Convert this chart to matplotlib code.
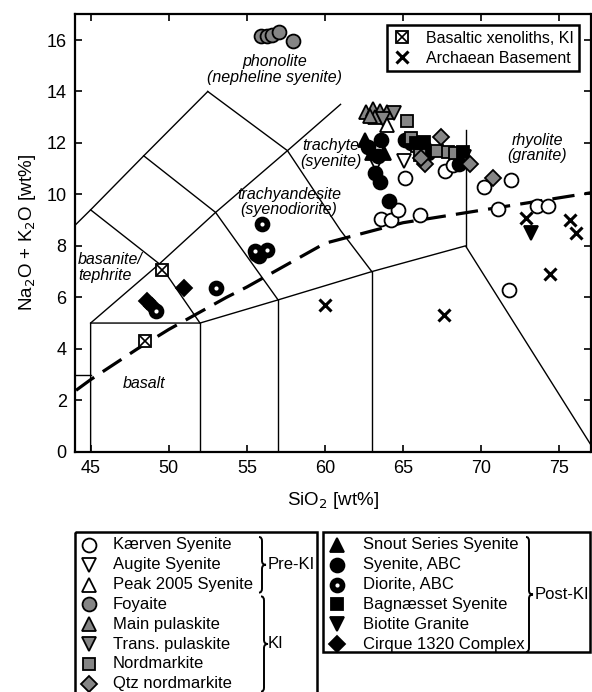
import matplotlib
matplotlib.use("Agg")
import matplotlib.pyplot as plt
from matplotlib.lines import Line2D
from matplotlib.path import Path
from matplotlib.patches import PathPatch, Rectangle

plt.rcParams["font.family"] = ["Liberation Sans", "DejaVu Sans"]

# ---- sample data: SiO2 / total alkalis (wt%) ----
kaerven_si = [65.15, 67.7, 68.2, 70.2, 71.9, 63.6, 64.2, 64.65, 66.1, 71.1, 73.6, 74.25, 71.8]
kaerven_alk = [10.65, 10.9, 11.15, 10.3, 10.55, 9.05, 9.0, 9.4, 9.2, 9.45, 9.55, 9.55, 6.3]
augite_si = [63.3, 65.05, 68.9]
augite_alk = [11.2, 11.3, 11.45]
peak_si = [64.0]
peak_alk = [12.7]
foyaite_si = [55.9, 56.3, 56.6, 57.05, 57.95]
foyaite_alk = [16.15, 16.15, 16.2, 16.3, 15.95]
mainpul_si = [62.6, 63.05, 63.5, 63.95, 63.2, 62.9]
mainpul_alk = [13.2, 13.3, 13.25, 13.2, 13.0, 13.05]
transpul_si = [64.45, 63.7]
transpul_alk = [13.15, 12.95]
nord_si = [65.25, 67.15, 67.85, 68.3, 65.5, 65.9, 66.1]
nord_alk = [12.85, 11.7, 11.65, 11.6, 12.2, 11.9, 11.55]
qtznord_si = [67.45, 69.3, 70.75, 66.4, 66.15]
qtznord_alk = [12.25, 11.2, 10.65, 11.2, 11.4]
snout_si = [62.55, 63.8, 63.0]
snout_alk = [12.1, 11.6, 11.6]
syenite_si = [62.75, 63.6, 63.4, 63.2, 63.5, 65.1, 65.5, 66.35, 66.6, 64.1, 68.6, 55.6, 55.8]
syenite_alk = [11.85, 12.1, 11.5, 10.85, 10.5, 12.1, 12.0, 11.85, 11.6, 9.75, 11.2, 7.7, 7.6]
diorite_si = [56.0, 56.3, 55.55, 53.0, 49.2]
diorite_alk = [8.85, 7.85, 7.8, 6.35, 5.45]
bagn_si = [68.85, 66.35, 65.85]
bagn_alk = [11.65, 12.05, 12.0]
biotite_si = [73.2]
biotite_alk = [8.5]
cirque_si = [51.0, 48.6, 48.95]
cirque_alk = [6.35, 5.85, 5.65]
xenolith_si = [49.6, 48.45]
xenolith_alk = [7.05, 4.3]
archaean_si = [60.0, 67.6, 74.4, 72.9, 75.7, 76.1]
archaean_alk = [5.7, 5.3, 6.9, 9.1, 9.0, 8.5]

# TAS field boundaries (Le Bas et al. 1986)
tas_lines = [
    [(41, 3), (45, 3)],
    [(41, 7), (45, 9.4), (48.4, 11.5), (52.5, 14)],
    [(45, 0), (45, 5), (52, 5), (57, 5.9), (63, 7), (69, 8), (77.3, 0)],
    [(52, 0), (52, 5)],
    [(57, 0), (57, 5.9)],
    [(63, 0), (63, 7)],
    [(45, 5), (49.4, 7.3), (53, 9.3), (57.6, 11.7), (61, 13.5)],
    [(45, 9.4), (49.4, 7.3), (52, 5)],
    [(48.4, 11.5), (53, 9.3), (57, 5.9)],
    [(52.5, 14), (57.6, 11.7), (61, 8.6), (63, 7)],
    [(69, 8), (69, 12.5)],
]

# alkaline / subalkaline divide (Irvine & Baragar 1971)
ib_si = [39.2, 40, 43.2, 45, 48, 50, 53.7, 55, 60, 65, 77.4]
ib_alk = [0, 0.4, 2, 2.8, 4, 4.75, 6, 6.4, 8.1, 8.9, 10.1]

field_labels = [
    (56.8, 14.85, "phonolite\n(nepheline syenite)", "center"),
    (60.4, 11.6, "trachyte\n(syenite)", "center"),
    (57.7, 9.7, "trachyandesite\n(syenodiorite)", "center"),
    (44.2, 7.15, "basanite/\ntephrite", "left"),
    (48.45, 2.66, "basalt", "center"),
    (73.6, 11.8, "rhyolite\n(granite)", "center"),
]

GREY = "#858585"
MS = 10
MEW = 1.3

W, H = 592, 692
fig = plt.figure(figsize=(W / 100, H / 100), dpi=100)
ax = fig.add_axes([75 / W, 1 - 451.7 / H, (590.5 - 75) / W, (451.7 - 14.3) / H])

for line in tas_lines:
    xs, ys = zip(*line)
    ax.plot(xs, ys, color="black", lw=1.0, zorder=1)
ax.plot(ib_si, ib_alk, color="black", lw=2.3, ls=(0, (7, 3.2)), zorder=1)

for x, y, txt, ha in field_labels:
    ax.text(x, y, txt, ha=ha, va="center", fontsize=11.5, style="italic",
            linespacing=1.05, zorder=2)


def pts(xs, ys, marker, face, **kw):
    ax.plot(xs, ys, ls="none", marker=marker, ms=kw.pop("ms", MS),
            mfc=face, mec="black", mew=MEW, zorder=kw.pop("zorder", 3), **kw)


pts(kaerven_si, kaerven_alk, "o", "white")
pts(foyaite_si, foyaite_alk, "o", GREY)
pts(mainpul_si, mainpul_alk, "^", GREY)
pts(transpul_si, transpul_alk, "v", GREY)
pts(peak_si, peak_alk, "^", "white")
pts(augite_si, augite_alk, "v", "white")
pts(syenite_si, syenite_alk, "o", "black")
pts(snout_si, snout_alk, "^", "black")
pts(nord_si, nord_alk, "s", GREY, ms=9)
pts(bagn_si, bagn_alk, "s", "black", ms=9)
pts(qtznord_si, qtznord_alk, "D", GREY, ms=8)
pts(cirque_si, cirque_alk, "D", "black", ms=8)
pts(biotite_si, biotite_alk, "v", "black")
pts(diorite_si, diorite_alk, "o", "black")
ax.plot(diorite_si, diorite_alk, ls="none", marker="o", ms=3, mfc="white",
        mec="none", zorder=3.1)
pts(xenolith_si, xenolith_alk, "s", "white", ms=9)
ax.plot(xenolith_si, xenolith_alk, ls="none", marker="x", ms=7, mec="black",
        mew=1.2, zorder=3.1)
ax.plot(archaean_si, archaean_alk, ls="none", marker="x", ms=8.5, mec="black",
        mew=2.2, zorder=3)

ax.set_xlim(44, 77)
ax.set_ylim(0, 17)
ax.set_xticks(range(45, 77, 5))
ax.set_yticks(range(0, 17, 2))
ax.tick_params(direction="in", length=5, width=1.2, top=True, right=True,
               labelsize=13, pad=6)
for s in ax.spines.values():
    s.set_linewidth(1.6)
ax.set_xlabel("SiO$_2$ [wt%]", fontsize=13.5, labelpad=9)
ax.set_ylabel("Na$_2$O + K$_2$O [wt%]", fontsize=13.5, labelpad=6)

# inset legend for xenoliths / basement
xen_h = (Line2D([], [], ls="none", marker="s", ms=9, mfc="white", mec="black", mew=MEW),
         Line2D([], [], ls="none", marker="x", ms=7, mec="black", mew=1.2))
arc_h = Line2D([], [], ls="none", marker="x", ms=8.5, mec="black", mew=2.2)
leg = ax.legend([xen_h, arc_h], ["Basaltic xenoliths, KI", "Archaean Basement"],
                loc="upper right", fontsize=11.5, frameon=True, fancybox=False,
                edgecolor="black", framealpha=1, handlelength=1.2,
                handletextpad=0.9, borderpad=0.35, labelspacing=0.3,
                borderaxespad=0.7)
leg.get_frame().set_linewidth(1.8)

# group legend boxes below the diagram, drawn in pixel units
lg = fig.add_axes([0, 0, 1, 1], zorder=5)
lg.set_xlim(0, W)
lg.set_ylim(H, 0)
lg.axis("off")
lg.patch.set_alpha(0)

left_names = ["Kærven Syenite", "Augite Syenite", "Peak 2005 Syenite", "Foyaite",
              "Main pulaskite", "Trans. pulaskite", "Nordmarkite", "Qtz nordmarkite"]
left_marks = [("o", "white", 10), ("v", "white", 10), ("^", "white", 10), ("o", GREY, 10),
              ("^", GREY, 10), ("v", GREY, 10), ("s", GREY, 9), ("D", GREY, 8)]
right_names = ["Snout Series Syenite", "Syenite, ABC", "Diorite, ABC",
               "Bagnæsset Syenite", "Biotite Granite", "Cirque 1320 Complex"]
right_marks = [("^", "black", 10), ("o", "black", 10), ("o", "black", 10),
               ("s", "black", 9), ("v", "black", 10), ("D", "black", 8)]

lg.add_patch(Rectangle((75, 532), 317 - 75, 180, fill=False, lw=1.8, ec="black"))
lg.add_patch(Rectangle((323, 532), 590 - 323, 652 - 532, fill=False, lw=1.8, ec="black"))

ROW0, DROW = 545, 19.8
for i, (name, (m, fc, ms)) in enumerate(zip(left_names, left_marks)):
    y = ROW0 + i * DROW
    lg.plot(89, y, marker=m, ms=ms, mfc=fc, mec="black", mew=MEW)
    lg.text(113, y, name, fontsize=12, va="center")
for i, (name, (m, fc, ms)) in enumerate(zip(right_names, right_marks)):
    y = ROW0 + i * DROW
    lg.plot(337, y, marker=m, ms=ms, mfc=fc, mec="black", mew=MEW)
    if name == "Diorite, ABC":
        lg.plot(337, y, marker="o", ms=3, mfc="white", mec="none")
    lg.text(363, y, name, fontsize=12, va="center")


def brace(x, y0, y1, w=4):
    mid = (y0 + y1) / 2
    verts = [(x - 3, y0), (x, y0), (x, y0 + 4), (x, mid - 4), (x, mid), (x + w, mid),
             (x, mid), (x, mid + 4), (x, y1 - 4), (x, y1), (x - 3, y1)]
    codes = [Path.MOVETO, Path.CURVE3, Path.CURVE3, Path.LINETO, Path.CURVE3,
             Path.CURVE3, Path.CURVE3, Path.CURVE3, Path.LINETO, Path.CURVE3, Path.CURVE3]
    lg.add_patch(PathPatch(Path(verts, codes), fill=False, lw=1.4, ec="black"))


brace(262, ROW0 - 8, ROW0 + 2 * DROW + 8)
brace(264, ROW0 + 3 * DROW - 8, ROW0 + 7 * DROW + 8)
brace(529, ROW0 - 8, ROW0 + 5 * DROW + 8)
lg.text(268, ROW0 + DROW, "Pre-KI", fontsize=12, va="center")
lg.text(268, ROW0 + 5 * DROW, "KI", fontsize=12, va="center")
lg.text(535, ROW0 + 2.5 * DROW, "Post-KI", fontsize=12, va="center")

fig.savefig("out.png", dpi=100)
